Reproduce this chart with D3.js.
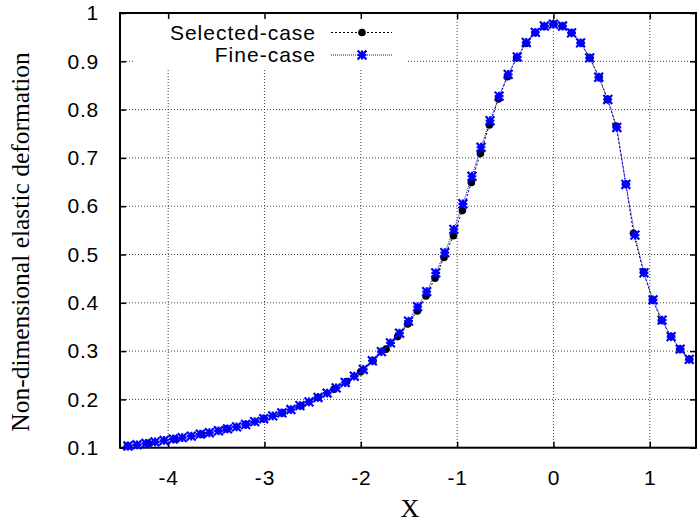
<!DOCTYPE html>
<html>
<head>
<meta charset="utf-8">
<script src="https://cdn.jsdelivr.net/npm/d3@7"></script>
<style>
html,body{margin:0;padding:0;background:#fff;}
svg{display:block;}
</style>
</head>
<body>
<svg id="chart" width="699" height="525"></svg>
<script>
// ---- data ----
const fineX = [-4.418,-4.324,-4.230,-4.136,-4.042,-3.948,-3.854,-3.760,-3.666,-3.572,
  -3.478,-3.384,-3.290,-3.196,-3.102,-3.008,-2.914,-2.820,-2.726,-2.632,
  -2.538,-2.444,-2.350,-2.256,-2.162,-2.068,-1.974,-1.880,-1.786,-1.692,
  -1.598,-1.504,-1.410,-1.316,-1.222,-1.128,-1.034,-0.940,-0.846,-0.752,
  -0.658,-0.564,-0.470,-0.376,-0.282,-0.188,-0.094,0.000,0.094,0.188,
  0.282,0.376,0.470,0.564,0.658,0.752,0.846,0.940,1.034,1.128,
  1.222,1.316,1.410];
const fineY = [0.1035,0.106,0.109,0.112,0.115,0.118,0.121,0.124,0.128,0.131,
  0.135,0.139,0.143,0.148,0.154,0.160,0.166,0.172,0.179,0.187,
  0.195,0.204,0.213,0.224,0.235,0.248,0.262,0.280,0.299,0.317,
  0.337,0.362,0.392,0.423,0.462,0.504,0.552,0.605,0.662,0.722,
  0.777,0.828,0.873,0.909,0.939,0.960,0.973,0.977,0.973,0.959,
  0.938,0.907,0.867,0.821,0.763,0.645,0.540,0.462,0.406,0.364,
  0.330,0.304,0.283];

const selX = [-4.418,-4.208,-3.930,-3.653,-3.393,-3.193,-3.006,-2.816,-2.621,-2.445,
  -2.278,-2.147,-2.001,-1.873,-1.738,-1.617,-1.513,-1.413,-1.323,-1.229,
  -1.136,-1.039,-0.945,-0.852,-0.758,-0.665,-0.571,-0.478,-0.382,-0.284,
  -0.190,-0.097,0.000,0.094,0.189,0.285,0.378,0.475,0.561,0.651,
  0.752,0.831,0.935,1.029,1.122,1.220,1.313,1.410];
const selY = [0.1035,0.109,0.118,0.128,0.139,0.148,0.160,0.172,0.187,0.204,
  0.221,0.237,0.257,0.280,0.304,0.330,0.356,0.383,0.414,0.451,
  0.494,0.539,0.591,0.649,0.709,0.768,0.822,0.868,0.907,0.937,
  0.959,0.972,0.977,0.973,0.959,0.938,0.907,0.867,0.821,0.766,
  0.646,0.544,0.464,0.406,0.364,0.330,0.304,0.283];

const xTicks = [-4,-3,-2,-1,0,1];
const xTickLabels = ["-4","-3","-2","-1","0","1"];
const yTicks = [0.1,0.2,0.3,0.4,0.5,0.6,0.7,0.8,0.9,1];
const yTickLabels = ["0.1","0.2","0.3","0.4","0.5","0.6","0.7","0.8","0.9","1"];
const seriesNames = ["Selected-case","Fine-case"];
const xLabel = "X";
const yLabel = "Non-dimensional elastic deformation";

// ---- layout ----
const L = 120, R = 696, T = 13, B = 447.7;
const svg = d3.select("#chart");
const x = d3.scaleLinear().domain([-4.5, 1.48]).range([L, R]);
const y = d3.scaleLinear().domain([0.1, 1]).range([B, T]);
const sansFont = "'Liberation Sans', Arial, Helvetica, sans-serif";
const serifFont = "'Liberation Serif', 'Times New Roman', serif";
const FS = 21;

// grid
const grid = svg.append("g");
grid.selectAll("line.gx").data(xTicks).enter().append("line")
  .attr("x1", d => x(d)).attr("x2", d => x(d)).attr("y1", T).attr("y2", B)
  .attr("stroke", "#444").attr("stroke-width", 1).attr("stroke-dasharray", "1,2");
grid.selectAll("line.gy").data(yTicks.filter(d => d > 0.1 && d < 1)).enter().append("line")
  .attr("x1", L).attr("x2", R).attr("y1", d => y(d)).attr("y2", d => y(d))
  .attr("stroke", "#444").attr("stroke-width", 1).attr("stroke-dasharray", "1,2");

// legend background (opaque, hides grid)
svg.append("rect").attr("x", 134).attr("y", T + 1).attr("width", 274).attr("height", 54).attr("fill", "#fff");

// axes via d3 axis generators (inward ticks)
const tickFmtX = (d, i) => xTickLabels[i];
const tickFmtY = (d, i) => yTickLabels[i];
function styleAxis(g) {
  g.select(".domain").remove();
  g.selectAll(".tick line").attr("stroke", "#000").attr("stroke-width", 1.5);
  g.selectAll(".tick text").attr("fill", "#000").attr("font-family", sansFont)
    .attr("font-size", FS).attr("letter-spacing", 0.8);
}
const gxB = svg.append("g").attr("transform", `translate(0,${B})`)
  .call(d3.axisBottom(x).tickValues(xTicks).tickFormat(tickFmtX).tickSizeInner(-6).tickSizeOuter(0).tickPadding(22));
styleAxis(gxB);
const gxT = svg.append("g").attr("transform", `translate(0,${T})`)
  .call(d3.axisTop(x).tickValues(xTicks).tickFormat("").tickSizeInner(-6).tickSizeOuter(0));
styleAxis(gxT);
const gyL = svg.append("g").attr("transform", `translate(${L},0)`)
  .call(d3.axisLeft(y).tickValues(yTicks).tickFormat(tickFmtY).tickSizeInner(-6).tickSizeOuter(0).tickPadding(21));
styleAxis(gyL);
const gyR = svg.append("g").attr("transform", `translate(${R},0)`)
  .call(d3.axisRight(y).tickValues(yTicks).tickFormat("").tickSizeInner(-6).tickSizeOuter(0));
styleAxis(gyR);

// border
svg.append("rect").attr("x", L).attr("y", T).attr("width", R - L).attr("height", B - T)
  .attr("fill", "none").attr("stroke", "#000").attr("stroke-width", 2);

// axis titles
svg.append("text").attr("x", 410).attr("y", 517).attr("text-anchor", "middle")
  .attr("font-family", serifFont).attr("font-size", 26).text(xLabel);
svg.append("text").attr("transform", "translate(29,242) rotate(-90)").attr("text-anchor", "middle")
  .attr("font-family", serifFont).attr("font-size", 25.5).text(yLabel);

// series
const selData = selX.map((v, i) => [v, selY[i]]);
const fineData = fineX.map((v, i) => [v, fineY[i]]);
const line = d3.line().x(d => x(d[0])).y(d => y(d[1]));
const plot = svg.append("g");

plot.append("path").datum(selData).attr("d", line).attr("fill", "none")
  .attr("stroke", "#000").attr("stroke-width", 1).attr("stroke-dasharray", "2,2");
plot.selectAll("circle.sel").data(selData).enter().append("circle")
  .attr("cx", d => x(d[0])).attr("cy", d => y(d[1])).attr("r", 3.8).attr("fill", "#000");

plot.append("path").datum(fineData).attr("d", line).attr("fill", "none")
  .attr("stroke", "#0000ff").attr("stroke-width", 1).attr("stroke-dasharray", "1,1");
const star = (g, cx, cy) => {
  const s = 4.4;
  const p = `M${cx - s},${cy}L${cx + s},${cy}M${cx},${cy - s}L${cx},${cy + s}` +
            `M${cx - s},${cy - s}L${cx + s},${cy + s}M${cx - s},${cy + s}L${cx + s},${cy - s}`;
  g.append("path").attr("d", p).attr("stroke", "#0000ff").attr("stroke-width", 2.2).attr("fill", "none");
};
fineData.forEach(d => star(plot, x(d[0]), y(d[1])));

// legend
const lg = svg.append("g");
const legY = [32.5, 55];
lg.append("text").attr("x", 316).attr("y", legY[0]).attr("dy", "0.35em").attr("text-anchor", "end")
  .attr("font-family", sansFont).attr("font-size", FS).attr("letter-spacing", 1).text(seriesNames[0]);
lg.append("text").attr("x", 316).attr("y", legY[1]).attr("dy", "0.35em").attr("text-anchor", "end")
  .attr("font-family", sansFont).attr("font-size", FS).attr("letter-spacing", 1).text(seriesNames[1]);
lg.append("line").attr("x1", 331).attr("x2", 392).attr("y1", legY[0]).attr("y2", legY[0])
  .attr("stroke", "#000").attr("stroke-width", 1).attr("stroke-dasharray", "2,2");
lg.append("circle").attr("cx", 362).attr("cy", legY[0]).attr("r", 3.8).attr("fill", "#000");
lg.append("line").attr("x1", 331).attr("x2", 392).attr("y1", legY[1]).attr("y2", legY[1])
  .attr("stroke", "#0000ff").attr("stroke-width", 1).attr("stroke-dasharray", "1,1");
star(lg, 362, legY[1]);
</script>
</body>
</html>
